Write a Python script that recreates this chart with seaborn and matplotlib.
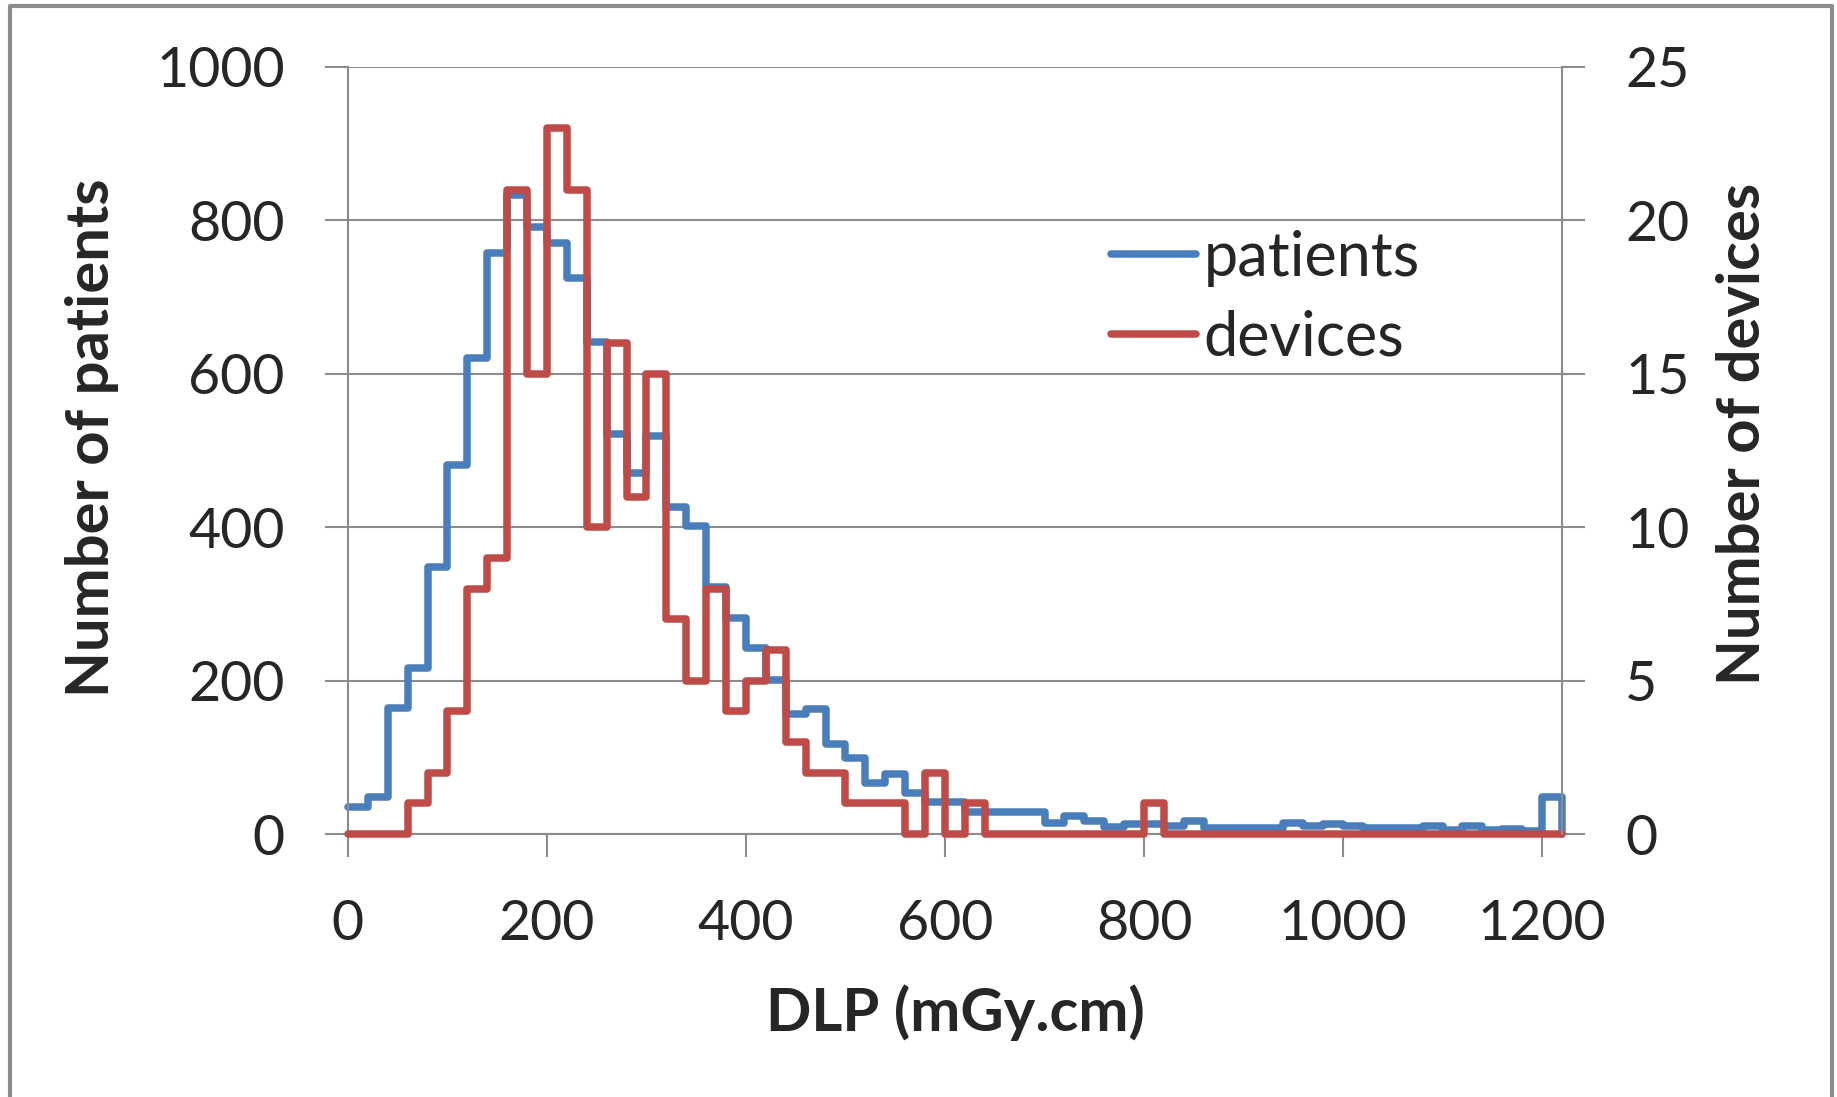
import seaborn as sns
import matplotlib.pyplot as plt
import pandas as pd
from matplotlib.lines import Line2D

# bin edges of DLP (mGy.cm), 20-wide bins from 0 to 1220
edges = list(range(0, 1240, 20))

patients = [35, 48, 164, 217, 348, 481, 621, 757, 833, 791,
            771, 725, 642, 522, 470, 519, 426, 401, 322, 281,
            242, 201, 157, 163, 118, 99, 66, 78, 53, 42,
            42, 29, 29, 29, 29, 14, 23, 17, 9, 13,
            13, 10, 17, 8, 8, 8, 8, 15, 10, 13,
            10, 8, 8, 8, 10, 5, 10, 5, 6, 4,
            48]

devices = [0, 0, 0, 1, 2, 4, 8, 9, 21, 15,
           23, 21, 10, 16, 11, 15, 7, 5, 8, 4,
           5, 6, 3, 2, 2, 1, 1, 1, 0, 2,
           0, 1, 0, 0, 0, 0, 0, 0, 0, 0,
           1, 0, 0, 0, 0, 0, 0, 0, 0, 0,
           0, 0, 0, 0, 0, 0, 0, 0, 0, 0,
           0]

x_ticks = [0, 200, 400, 600, 800, 1000, 1200]
left_ticks = [0, 200, 400, 600, 800, 1000]
right_ticks = [0, 5, 10, 15, 20, 25]

# last point closes the step back to zero at the final edge
df = pd.DataFrame({'DLP': edges,
                   'patients': patients + [0],
                   'devices': devices + [0]})

sns.set_theme(style='white')
plt.rcParams['font.family'] = ['Lato', 'DejaVu Sans']

blue = '#4a7ebb'
red = '#be4b48'
grey = '#8c8c8c'
fs = 40
lab_fs = 43
lw = 5.4

fig = plt.figure(figsize=(18.37, 10.97), dpi=100)
ax = fig.add_axes([0.1894, 0.2397, 0.6609, 0.6993])
ax2 = ax.twinx()

sns.lineplot(data=df, x='DLP', y='patients', ax=ax, color=blue, lw=lw,
             drawstyle='steps-post', legend=False, clip_on=False)
sns.lineplot(data=df, x='DLP', y='devices', ax=ax2, color=red, lw=lw,
             drawstyle='steps-post', legend=False, clip_on=False)

ax.set_xlim(0, 1220)
ax.set_ylim(0, 1000)
ax2.set_ylim(0, 25)
ax.set_xticks(x_ticks)
ax.set_yticks(left_ticks)
ax2.set_yticks(right_ticks)

ax.grid(axis='y', color=grey, lw=1.5)
ax.grid(axis='x', visible=False)
ax2.grid(False)

for a in (ax, ax2):
    for s in a.spines.values():
        s.set_visible(False)
ax.spines['left'].set_visible(True)
ax.spines['bottom'].set_visible(True)
ax2.spines['right'].set_visible(True)
for s in (ax.spines['left'], ax.spines['bottom'], ax2.spines['right']):
    s.set_color(grey)
    s.set_linewidth(1.5)

ax.tick_params(axis='y', direction='out', length=16.5, width=1.5, color=grey,
               labelsize=fs, pad=29, left=True)
ax.tick_params(axis='x', direction='out', length=16.5, width=1.5, color=grey,
               labelsize=fs, pad=30, bottom=True)
ax2.tick_params(axis='y', direction='out', length=16.5, width=1.5, color=grey,
                labelsize=fs, pad=29, right=True)

ax.set_xlabel('DLP (mGy.cm)', fontsize=lab_fs, fontweight='bold', va='center')
ax.xaxis.set_label_coords(0.5, -0.2334)
ax.set_ylabel('Number of patients', fontsize=lab_fs, fontweight='bold', va='center')
ax.yaxis.set_label_coords(-0.211, 0.516)
ax2.set_ylabel('Number of devices', fontsize=lab_fs, fontweight='bold', va='center',
               rotation=90)
ax2.yaxis.set_label_coords(1.149, 0.522)

handles = [Line2D([], [], color=blue, lw=lw, solid_capstyle='round'),
           Line2D([], [], color=red, lw=lw, solid_capstyle='round')]
fig.legend(handles, ['patients', 'devices'], loc='center left',
           bbox_to_anchor=(1111 / 1837, 1 - 298 / 1097), frameon=False,
           fontsize=44, handlelength=1.39, handletextpad=0.12,
           labelspacing=0.37, borderpad=0, borderaxespad=0)

# chart area border (bottom edge lies outside the picture)
fx = lambda px: px / 1837
fy = lambda py: 1 - py / 1097
border = Line2D([fx(9.5), fx(9.5), fx(1832), fx(1832)],
                [fy(1110), fy(6), fy(6), fy(1110)],
                transform=fig.transFigure, color=grey, lw=3)
fig.add_artist(border)

fig.savefig('out.png', dpi=100)
